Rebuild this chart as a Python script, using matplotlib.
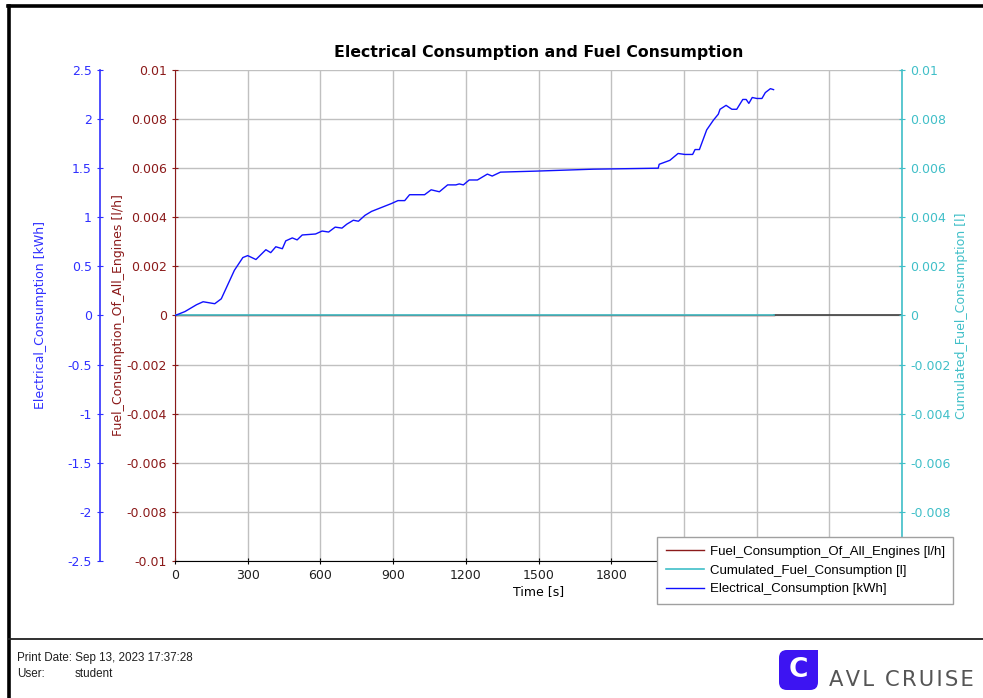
import numpy as np
import matplotlib
matplotlib.use("Agg")
import matplotlib.pyplot as plt
from matplotlib.lines import Line2D
from matplotlib.patches import FancyBboxPatch, Rectangle
from matplotlib.ticker import FuncFormatter, MultipleLocator

plt.rcParams['axes.unicode_minus'] = False
plt.rcParams['font.family'] = ['DejaVu Sans']

# ---- data ----
elec_time = [0, 41, 89, 116, 164, 191, 245, 280, 300, 334, 375, 395, 416, 443,
             457, 484, 504, 525, 580, 607, 634, 661, 689, 709, 736, 757, 784,
             811, 852, 893, 920, 948, 968, 1030, 1057, 1091, 1125, 1159, 1173,
             1190, 1214, 1248, 1289, 1309, 1343, 1486, 1725, 1994, 1998, 2042,
             2076, 2104, 2136, 2146, 2164, 2194, 2222, 2242, 2249, 2274, 2298,
             2318, 2343, 2357, 2368, 2382, 2401, 2422, 2436, 2457, 2470]
elec_kwh = [0, 0.04, 0.11, 0.14, 0.12, 0.17, 0.46, 0.59, 0.61, 0.57, 0.67, 0.64,
            0.70, 0.68, 0.76, 0.79, 0.77, 0.82, 0.83, 0.86, 0.85, 0.90, 0.89,
            0.93, 0.97, 0.96, 1.02, 1.06, 1.10, 1.14, 1.17, 1.17, 1.23, 1.23,
            1.28, 1.26, 1.33, 1.33, 1.34, 1.33, 1.38, 1.38, 1.44, 1.42, 1.46,
            1.47, 1.49, 1.50, 1.54, 1.58, 1.65, 1.64, 1.64, 1.69, 1.69, 1.89,
            1.99, 2.05, 2.10, 2.14, 2.10, 2.10, 2.20, 2.20, 2.16, 2.22, 2.21,
            2.21, 2.27, 2.31, 2.30]
fuel_time = [0, 2470]
fuel_lph = [0, 0]
cum_time = [0, 2470]
cum_fuel = [0, 0]
tail_time = [2470, 3000]
tail_val = [0, 0]

x_ticks = [0, 300, 600, 900, 1200, 1500, 1800, 2100, 2400, 2700, 3000]
# labels from 2100 on sit behind the legend in the original
x_labels = ['0', '300', '600', '900', '1200', '1500', '1800', '', '', '', '']

c_blue = '#3030FF'
c_red = '#8B1A1A'
c_cyan = '#40BFC8'

fig = plt.figure(figsize=(9.83, 6.98), dpi=100)
ax = fig.add_axes([175/983, 1-561/698, 727/983, 491/698])
ax_cum = ax.twinx()
ax_el = ax.twinx()

fmt = FuncFormatter(lambda v, p: '%g' % round(v, 6))
fmt_cum = FuncFormatter(lambda v, p: '' if v < -0.0095 else '%g' % round(v, 6))

# main (fuel) axis
ax.plot(fuel_time, fuel_lph, color=c_red, lw=1)
ax.plot(tail_time, tail_val, color='#404040', lw=1.2)
ax.set_xlim(0, 3000)
ax.set_ylim(-0.01, 0.01)
ax.set_xticks(x_ticks)
ax.set_xticklabels(x_labels)
ax.yaxis.set_major_locator(MultipleLocator(0.002))
ax.yaxis.set_major_formatter(fmt)
ax.grid(True, color='#C0C0C0', lw=1)
ax.set_axisbelow(True)
ax.spines['top'].set_visible(False)
ax.spines['right'].set_visible(False)
ax.spines['left'].set_color(c_red)
ax.tick_params(axis='y', colors=c_red, direction='inout', length=5, labelsize=9)
ax.tick_params(axis='x', direction='inout', length=5, labelsize=9, colors='black',
               labelcolor='#202020')
ax.set_xlabel('Time [s]', fontsize=9, labelpad=2)
ax.set_ylabel('Fuel_Consumption_Of_All_Engines [l/h]', color=c_red, fontsize=9)
ax.yaxis.set_label_coords(-0.069, 0.5)
ax.set_title('Electrical Consumption and Fuel Consumption', fontweight='bold',
             fontsize=11.3, pad=9)

# cumulated fuel axis (right)
ax_cum.plot(cum_time, cum_fuel, color=c_cyan, lw=1.2)
ax_cum.set_ylim(-0.01, 0.01)
ax_cum.yaxis.set_major_locator(MultipleLocator(0.002))
ax_cum.yaxis.set_major_formatter(fmt_cum)
for s in ['top', 'bottom', 'left']:
    ax_cum.spines[s].set_visible(False)
ax_cum.spines['right'].set_color(c_cyan)
ax_cum.spines['right'].set_linewidth(1.2)
ax_cum.tick_params(axis='y', colors=c_cyan, direction='inout', length=5, labelsize=9)
ax_cum.set_ylabel('Cumulated_Fuel_Consumption [l]', color=c_cyan, fontsize=9,
                  rotation=90)
ax_cum.yaxis.set_label_coords(1.073, 0.5)

# electrical axis (outer left)
ax_el.plot(elec_time, elec_kwh, color='#1010FF', lw=1)
ax_el.set_ylim(-2.5, 2.5)
ax_el.yaxis.set_major_locator(MultipleLocator(0.5))
ax_el.yaxis.set_major_formatter(fmt)
ax_el.yaxis.set_ticks_position('left')
ax_el.yaxis.set_label_position('left')
for s in ['top', 'bottom', 'right']:
    ax_el.spines[s].set_visible(False)
ax_el.spines['left'].set_visible(True)
ax_el.spines['left'].set_position(('axes', -75/727))
ax_el.spines['left'].set_color(c_blue)
ax_el.spines['left'].set_linewidth(1.2)
ax_el.tick_params(axis='y', colors=c_blue, direction='inout', length=5, labelsize=9)
ax_el.set_ylabel('Electrical_Consumption [kWh]', color=c_blue, fontsize=9)
ax_el.yaxis.set_label_coords(-0.176, 0.5)

# legend
handles = [Line2D([], [], color=c_red, lw=1),
           Line2D([], [], color=c_cyan, lw=1.2),
           Line2D([], [], color='#1010FF', lw=1)]
labels = ['Fuel_Consumption_Of_All_Engines [l/h]',
          'Cumulated_Fuel_Consumption [l]',
          'Electrical_Consumption [kWh]']
leg = fig.legend(handles, labels, loc='upper left',
                 bbox_to_anchor=(657/983, 1-537/698), fancybox=False,
                 framealpha=1, edgecolor='#A0A0A0',
                 prop={'family': 'Liberation Sans', 'size': 9.5},
                 handlelength=2.9, handletextpad=0.45, labelspacing=0.5,
                 borderpad=0.65, borderaxespad=0)
leg.get_frame().set_linewidth(1)

# page frame
fig.add_artist(Line2D([8/983, 1], [1-6/698, 1-6/698], color='black', lw=2.6))
fig.add_artist(Line2D([9/983, 9/983], [0, 1-6/698], color='black', lw=2.6))
fig.add_artist(Line2D([9/983, 1], [1-639/698, 1-639/698], color='#202020', lw=1.3))

# footer
fig.text(17/983, 1-658/698, 'Print Date: Sep 13, 2023 17:37:28', fontsize=8.4,
         family='Liberation Sans', va='center', color='#202020')
fig.text(17/983, 1-674/698, 'User:', fontsize=8.4, family='Liberation Sans',
         va='center', color='#202020')
fig.text(75/983, 1-674/698, 'student', fontsize=8.4, family='Liberation Sans',
         va='center', color='#202020')

# logo
logo = FancyBboxPatch((779/983, 1-690/698), 39/983, 40/698,
                      boxstyle='round,pad=0,rounding_size=0.008',
                      transform=fig.transFigure, facecolor='#3D14F2',
                      edgecolor='none', mutation_aspect=983/698)
fig.add_artist(logo)
fig.add_artist(Rectangle((800/983, 1-670/698), 18/983, 20/698,
                         transform=fig.transFigure, facecolor='#3D14F2',
                         edgecolor='none'))
fig.text(798.5/983, 1-670/698, 'C', fontsize=19, fontweight='bold', color='white',
         ha='center', va='center')
fig.text(829/983, 1-680/698, '\u200a'.join('AVL CRUISE'), fontsize=15.2,
         family='DejaVu Sans', color='#555555', va='center')

fig.savefig('out.png', dpi=100)
